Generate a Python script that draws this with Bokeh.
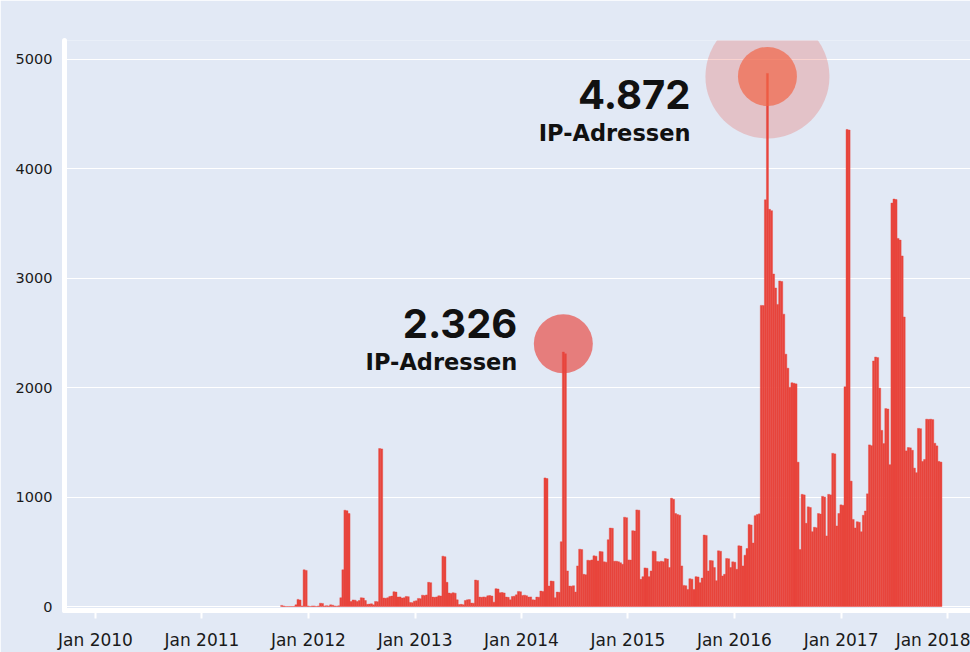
import re
import pandas as pd
from bokeh.plotting import figure
from bokeh.models import FixedTicker, DatetimeTickFormatter, Range1d
from bokeh.core.properties import value
from bokeh.embed import file_html
from bokeh.resources import INLINE

BG = "#e2e9f5"
RED = "#e8453c"
NUM_FONT = "Inter"
TXT_FONT = "DejaVu Sans"

# ---- data (weekly number of IP addresses) ----
week_start = "2011-09-28"
weekly_ips = [
    10, 5, 0, 0, 0, 0, 0, 15, 65, 60, 5, 335, 330, 5, 0, 5, 5, 0, 5, 30, 28,
    5, 8, 5, 15, 12, 5, 3, 6, 80, 335, 880, 875, 850, 45, 60, 58, 45, 55, 80,
    78, 55, 20, 22, 25, 15,
    46, 44, 1444, 1440, 78, 75, 80, 92, 95, 135, 132, 86, 88, 77, 80, 92, 90,
    37, 35, 49, 52, 74, 72, 104, 100, 106, 221, 218, 86, 84, 88, 98, 96, 460,
    455, 221, 123, 120, 126, 122, 61, 18, 20, 16, 55, 61, 63, 31, 30,
    242, 238, 86, 84, 88, 85, 98, 100, 96, 40, 163, 160, 126, 128, 124, 86,
    84, 61, 92, 94, 107, 138, 135, 101, 104, 99, 86, 88, 61, 60, 86, 85, 141,
    138, 1175, 1170, 187, 233, 230, 80, 132, 130, 592, 2326, 2310, 325,
    187, 185, 190, 132, 371, 524, 520, 294, 290, 423, 420, 426, 463, 460, 417,
    503, 500, 408, 405, 610, 717, 715, 414, 414, 410, 400, 386, 816, 812, 426,
    424, 693, 690, 883, 880, 248, 273, 353, 350, 273, 325, 506, 503, 411, 408,
    414, 410, 438, 435, 356,
    990, 980, 850, 840, 835, 371, 193, 190, 156, 254, 250, 156, 273, 270, 218,
    260, 653, 650, 325, 420, 418, 356, 236, 509, 505, 279, 294, 439, 436, 356,
    408, 405, 340, 555, 552, 371, 469, 530, 750, 745, 580, 830, 840, 847,
    2752, 2750, 3717, 4872, 3630, 3618, 3039, 2911, 2761, 2975, 2970, 2672,
    2306, 2178, 2003, 2045, 2040, 2035, 1319, 520, 1025, 1020, 760, 911, 905,
    684, 724, 720, 850, 845, 1007, 1000, 645, 1025, 1020, 1400, 1395, 736,
    850, 929, 925, 2008, 4360, 4355, 1146, 796, 718, 775, 770, 683, 834, 873,
    1030, 1477, 1470, 2244, 2280, 2275, 1996, 1610, 1489, 1809, 1805, 1296,
    3687, 3724, 3720, 3364, 3349, 3204, 2646, 1422, 1453, 1450, 1428, 1265,
    1223, 1628, 1625, 1326, 1344, 1712, 1710, 1712, 1708, 1492, 1468, 1326,
    1320,
]
year_ticks = ["2010-01-01", "2011-01-01", "2012-01-01", "2013-01-01", "2014-01-01",
              "2015-01-01", "2016-01-01", "2017-01-01", "2018-01-01"]
y_ticks = [0, 1000, 2000, 3000, 4000, 5000]
peak_labels = ["4.872", "2.326"]
caption = "IP-Adressen"

# ---- derived ----
week_ms = 7 * 24 * 3600 * 1000
dates = pd.date_range(week_start, periods=len(weekly_ips), freq="7D") + pd.Timedelta(hours=84)
s = pd.Series(weekly_ips, index=dates)
big_date = s.idxmax()
big_val = s.max()
early = s[s.index < pd.Timestamp("2015-01-01")]
small_date = early.idxmax()
small_val = early.max()

p = figure(width=970, height=652, output_backend="svg", toolbar_location=None,
           x_axis_type="datetime",
           x_range=Range1d(pd.Timestamp("2009-09-16 17:00"), pd.Timestamp("2018-03-20 21:30")),
           y_range=Range1d(-36.5, 5173),
           min_border_left=64, min_border_right=0, min_border_top=40, min_border_bottom=41)
p.background_fill_color = BG
p.border_fill_color = BG
p.outline_line_color = None

p.vbar(x=dates, top=weekly_ips, width=week_ms, bottom=0,
       fill_color=RED, line_color=RED, line_width=0.4)

# highlight circles
p.scatter(x=[big_date], y=[big_val - 27], size=124, fill_color=RED, fill_alpha=0.24, line_color=None)
p.scatter(x=[big_date], y=[big_val - 27], size=59, fill_color="#f16547", fill_alpha=0.7, line_color=None)
p.scatter(x=[small_date], y=[small_val + 75], size=59, fill_color=RED, fill_alpha=0.66, line_color=None)

# annotations
p.text(x=[big_date], y=[big_val], text=[peak_labels[0]], x_offset=-77, y_offset=21,
       text_align="right", text_baseline="alphabetic", text_font=value(NUM_FONT),
       text_font_style="bold", text_font_size="40px", text_color="#111111")
p.text(x=[big_date], y=[big_val], text=[caption], x_offset=-77, y_offset=60,
       text_align="right", text_baseline="alphabetic", text_font=value(TXT_FONT),
       text_font_style="bold", text_font_size="22.5px", text_color="#111111")
p.text(x=[small_date], y=[small_val], text=[peak_labels[1]], x_offset=-46, y_offset=-29,
       text_align="right", text_baseline="alphabetic", text_font=value(NUM_FONT),
       text_font_style="bold", text_font_size="40px", text_color="#111111")
p.text(x=[small_date], y=[small_val], text=[caption], x_offset=-46, y_offset=10,
       text_align="right", text_baseline="alphabetic", text_font=value(TXT_FONT),
       text_font_style="bold", text_font_size="22.5px", text_color="#111111")

# axes
xt = [pd.Timestamp(d).value // 10**6 for d in year_ticks]
p.xaxis.ticker = FixedTicker(ticks=xt)
p.xaxis.formatter = DatetimeTickFormatter(years="%b %Y", months="%b %Y", days="%b %Y",
                                          hours="%b %Y", minutes="%b %Y")
p.yaxis.ticker = FixedTicker(ticks=y_ticks)

for ax in (p.xaxis, p.yaxis):
    ax.axis_line_color = "white"
    ax.axis_line_width = 5
    ax.axis_line_cap = "round"
    ax.minor_tick_line_color = None
    ax.major_label_text_font = TXT_FONT
    ax.major_label_text_color = "#1a1a1a"

p.xaxis.major_tick_line_color = "white"
p.xaxis.major_tick_line_width = 2
p.xaxis.major_tick_out = 8
p.xaxis.major_tick_in = 0
p.xaxis.major_label_text_font_size = "17px"
p.xaxis.major_label_standoff = 11

p.yaxis.major_tick_line_color = None
p.yaxis.major_tick_out = 0
p.yaxis.major_tick_in = 0
p.yaxis.major_label_text_font_size = "14.5px"
p.yaxis.major_label_standoff = 12

p.xgrid.grid_line_color = None
p.ygrid.grid_line_color = "white"
p.ygrid.grid_line_width = 1.2

html = file_html(p, INLINE)
html = re.sub(r"<body([^>]*)>", lambda m: f'<body{m.group(1)} style="background:{BG}">', html, count=1)
open("out.html", "w").write(html)
